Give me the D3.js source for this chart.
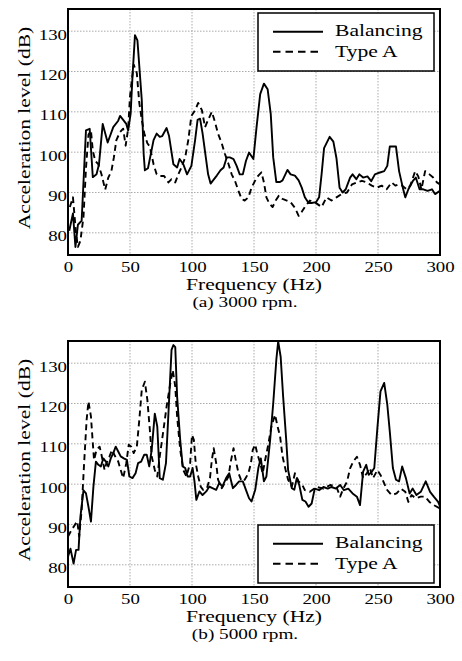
<!DOCTYPE html>
<meta charset="utf-8">
<style>
body { margin: 0; background: #fff; }
svg { display: block; font-family: 'Liberation Serif', 'Times New Roman', serif; }
</style>
<body>
<svg class="figure"></svg>

<script src="https://d3js.org/d3.v7.min.js"></script>
<script>
// [frequency (Hz), acceleration level (dB)]
let bal3000 = [[1,80.5],[4,84.8],[6,76.5],[8,82],[11,83],[14.5,105.4],[17.5,105.8],[20,93.8],[23,94.5],[25,97],[28,107],[32,102.4],[36.5,106.2],[40.5,107.8],[42,109],[44.5,108],[47,107],[48.5,105.4],[50.5,109.5],[52,118.7],[54,129],[56,127.7],[59.5,112.9],[61,99.6],[62,95.5],[64.5,96],[69,103],[71.5,104.6],[74,103.8],[76,104],[79.5,106],[81.5,104],[85,97],[88,96.2],[90,98.3],[93,97],[96,94.5],[99.5,96.6],[102.5,103],[104.5,108],[106.5,108.3],[108.5,104.7],[111,99],[113,94.5],[115,92.2],[117,93],[120,94.2],[123,95.5],[125.5,96.2],[128,98.7],[130.5,98.7],[133.5,98.3],[136,96.6],[138.5,94.5],[141,94.5],[143.5,97.8],[146,99.9],[149.5,98.3],[152,106],[155,114.4],[158,117],[161,115.6],[163.5,109.5],[165.5,98.7],[168,92.6],[171,92.6],[173,93],[177,95.6],[179.5,94.5],[183,94.2],[186,93],[188.5,91.2],[191,88.8],[194,87.4],[196.5,87.4],[200,87.6],[202.5,88.8],[204.5,94.5],[206.5,101],[211,103.8],[214,102.6],[216.5,98.5],[219,91.2],[221.5,90],[224,90.8],[227.5,93.7],[229.5,94.5],[232.5,93.3],[235,94.5],[238,93.7],[241.5,94],[244.5,92.8],[247.5,94.5],[251,94.9],[255,95.3],[257.5,96.6],[259.5,101.4],[264.5,101.4],[267,95.3],[270,91.2],[272,88.8],[274.5,90.8],[278,92.8],[280.5,93.7],[283.5,90.8],[286.5,90.8],[290,90.4],[293.5,90.8],[296,89.6],[300,90.4]];

let typeA3000 = [[1.5,86.4],[4,88.8],[6.5,79.8],[8,76.5],[10,78],[12.5,84],[14.5,96],[16.5,104.3],[18.5,105.4],[20,100.4],[22,97.8],[24.5,97],[27,94.5],[30,90.7],[32.5,93.7],[35,95.3],[37,98.7],[39,103],[42,105],[44.5,105.8],[46.5,101.6],[48.5,105.8],[50,113.8],[51.5,118],[53,121.7],[55.5,119.6],[57.5,112.2],[59.5,108],[61.5,104.7],[64,102.2],[66,101.4],[69,97],[71.5,94.5],[74,94.1],[77.5,94.1],[81,92.5],[83.5,93.3],[86.5,92.5],[89,94.5],[91.5,96.2],[94.5,98.7],[97,103],[99.5,109],[102.5,110.4],[105,112.2],[108,110.4],[110.5,106.2],[113,108],[116,110],[118.5,107.5],[121,104.6],[124,102.2],[126.5,99.6],[129.5,97],[132,94.5],[134.5,93],[137.5,90.4],[140,88.4],[142.5,88],[145.5,88.8],[148,91.2],[151,93],[153.5,94.2],[156,95],[158,92.5],[160,88.8],[162.5,87.2],[165,86.4],[167.5,88],[170,89.2],[173,88.4],[176.5,88],[179.5,87.6],[183,86.2],[186,84.2],[188.5,85.2],[191,86.4],[195,88],[199,87.6],[204.5,86.4],[208.5,88.8],[212.5,88],[216.5,88.8],[220.5,89.6],[225,90],[229,92],[233,92.5],[237,92.9],[241,92.5],[245,91.7],[249,91.2],[253,91.7],[257,90.8],[261,92.5],[264,91.7],[266.5,92],[269.5,91.7],[273,90.8],[276,91.7],[280,95.3],[282.5,94],[285,90.8],[288,95.3],[291.5,94.5],[294.5,93.7],[297.5,92.5],[300,92]];

let bal5000 = [[0,82],[2,84],[4.5,80.3],[6.5,83.7],[8.5,83.7],[10,91.9],[12.5,98.5],[14.5,97.7],[16.5,94.4],[18.5,90.7],[20.5,99.4],[22.5,105.6],[24.5,104.8],[26.5,104.4],[28.5,106.4],[30.5,105.6],[32.5,104.4],[34.5,106.4],[36.5,107.7],[38.5,109.3],[40.5,108.1],[42.5,106.9],[45,106.4],[47.5,106],[49.5,101.9],[52,101.5],[54.5,102.7],[56.5,105.2],[59,105.6],[61.5,107.3],[63.5,107.3],[65.5,104.4],[67.5,108.5],[70,117.5],[72,114.3],[74,101.5],[76.5,101.1],[79,105.2],[81,117.6],[83.5,133.3],[85,134.5],[86.5,134],[88,121.7],[90.5,110.9],[92.5,104.4],[94.5,104],[96.5,101.9],[98.5,101.9],[100.5,104],[102,100.7],[103.5,96.1],[106,98.2],[108.5,97.3],[111.5,98.2],[114,99.4],[116.5,99],[119.5,98.6],[122,100.3],[124.5,99.4],[127.5,101.5],[130,102.7],[133,99],[135.5,99.8],[138,100.7],[141,100.7],[143.5,98.6],[146,96.5],[148,95.7],[151,98.6],[153.5,104],[155.5,106.4],[158,100.7],[160,101.9],[163,110.9],[165.5,120],[168,130.8],[169.5,135.4],[171.5,131.6],[173.5,121.7],[176,110.9],[177.5,103.5],[180.5,99],[182.5,98.6],[184.5,101.5],[186.5,99.8],[189,96.1],[191.5,95.7],[194,94.4],[196.5,95.2],[199,98.9],[202.5,98.5],[206,99.3],[209.5,98.9],[212.5,99.3],[216,98.9],[219.5,99.8],[222.5,98.5],[226,98.9],[229.5,97.7],[233,96.9],[235.5,94.8],[238,103.1],[240.5,104.8],[242.5,102.3],[245,103.1],[247,104],[249.5,113.9],[252,123],[255,125.1],[257.5,119.7],[259.5,113.1],[262,104],[264.5,101.1],[267,100.7],[269.5,104.4],[272.5,101.5],[275.5,97.7],[278,98.9],[281,97.3],[284.5,98.1],[288.5,100.7],[292,98.1],[295,96.9],[298.5,95.6],[300,94.5]];

let typeA5000 = [[0,87],[3,88.7],[5.5,89.9],[7.5,90.8],[9,87],[11,93.6],[13,105.2],[15,115.9],[16.5,120.5],[18.5,116.8],[20,110.2],[21,106],[23,108.5],[25.5,109.3],[27,107.3],[29.5,103.5],[31,105.2],[33.5,106.9],[35.5,108.5],[38,106.9],[40.5,105.6],[42.5,103.5],[44.5,101.5],[47,105.2],[49,109.8],[51,109.3],[53,107.7],[55.5,109.3],[57.5,115.9],[59.5,123.4],[62,125.4],[64,120.9],[66,113.5],[67.5,106.9],[70,103.5],[72,101.9],[74,106.9],[77,113.5],[79.5,119.2],[82.5,125],[84.5,128.3],[86.5,124.2],[88,116.8],[90.5,108.5],[93,103.5],[95.5,101.9],[98.5,105.2],[100,112.2],[101.5,111],[103,105.2],[105,101.9],[107,99.4],[109,98.6],[112,99],[114.5,101.5],[116,106],[117.5,108.9],[119.5,105.2],[121,101.1],[124,99],[126.5,100.3],[129.5,101.9],[131,105.2],[133.5,108.9],[135.5,105.6],[137.5,102.7],[140,100.7],[142.5,101.1],[145.5,102.7],[147.5,105.2],[149,108.5],[151,109.8],[152.5,107.7],[155,105.2],[157,102.7],[159,106],[161.5,109.8],[164,114.3],[167,117.2],[169,114.3],[171,111.9],[173,106.9],[175.5,103.5],[177.5,101.1],[180.5,99.4],[183,102.7],[186,100.7],[189,99.8],[191,98.5],[195,98.1],[200.5,99.3],[206,98.9],[211.5,99.8],[216.5,99.3],[219.5,96.9],[222,98.9],[225,100.6],[227.5,103.9],[230,105.6],[233,106.8],[235.5,104.8],[238,101.5],[241,102.7],[243.5,104],[246,101.5],[249.5,103.5],[252,102.3],[255,100.2],[257.5,98.5],[261,97.3],[265,97.7],[268.5,98.9],[272,98.1],[274.5,95.6],[277,97.3],[280.5,96.5],[284.5,96.9],[288,96.9],[291.5,95.6],[295,94.8],[300,94]];

let xTicks = [0,50,100,150,200,250,300];
let yTicks = [80,90,100,110,120,130];
let xDomain = [0,300];
let yDomain = [74.5,135.5];
let seriesNames = ['Balancing','Type A'];
let captions = ['(a) 3000 rpm.','(b) 5000 rpm.'];

// page + panel geometry
let rwidth = 462, rheight = 661;
let plotLeft = 68, plotRight = 440, plotH = 246;
let sx = 1.3;   // the figure's type is set wide

let svg = d3.select('.figure')
            .attr('width',rwidth)
            .attr('height',rheight)

svg.append('rect').attr('width',rwidth).attr('height',rheight).attr('fill','#fff')

let panels = [
  {top:9,   series:[bal3000,typeA3000], legendTop:13,  caption:captions[0]},
  {top:341, series:[bal5000,typeA5000], legendTop:525, caption:captions[1]}
];

function wideText(g, x, y, str, size, rotate) {
  return g.append('text')
    .attr('transform', `translate(${x},${y})` + (rotate ? ` rotate(${rotate})` : '') + ` scale(${sx},1)`)
    .style('font-size', size + 'px')
    .text(str)
}

panels.forEach((p,pi) => {
  let g = svg.append('g')
  let bottom = p.top + plotH;

  let xscale = d3.scaleLinear().domain(xDomain).range([plotLeft,plotRight])
  let yscale = d3.scaleLinear().domain(yDomain).range([bottom,p.top])

  // dotted grid
  g.append('g').selectAll('line')
    .data(xTicks.slice(1,-1))
    .join('line')
    .attr('x1',d => xscale(d)).attr('x2',d => xscale(d))
    .attr('y1',p.top).attr('y2',bottom)
    .attr('stroke','#aaa').attr('stroke-width',1).attr('stroke-dasharray','1.5,1.5')

  g.append('g').selectAll('line')
    .data(yTicks)
    .join('line')
    .attr('x1',plotLeft).attr('x2',plotRight)
    .attr('y1',d => yscale(d)).attr('y2',d => yscale(d))
    .attr('stroke','#aaa').attr('stroke-width',1).attr('stroke-dasharray','1.5,1.5')

  // axes (labels only)
  let xaxis = g.append('g').attr('transform',`translate(0,${bottom})`)
    .call(d3.axisBottom(xscale).tickValues(xTicks).tickSize(0))
  xaxis.select('.domain').remove()
  xaxis.attr('font-family',null).attr('font-size',null)
  xaxis.selectAll('text')
    .attr('y',null).attr('dy',null)
    .attr('transform',`translate(0,17) scale(${sx},1)`)
    .attr('fill','#000')
    .style('font-size','14.5px')

  let yaxis = g.append('g').attr('transform',`translate(${plotLeft},0)`)
    .call(d3.axisLeft(yscale).tickValues(yTicks).tickSize(0))
  yaxis.select('.domain').remove()
  yaxis.attr('font-family',null).attr('font-size',null)
  yaxis.selectAll('text')
    .attr('x',null).attr('dy',null)
    .attr('transform',`translate(-1,8) scale(${sx},1)`)
    .attr('fill','#000')
    .style('font-size','14.5px')

  // curves
  let clipId = 'clip' + pi;
  svg.append('clipPath').attr('id',clipId)
    .append('rect').attr('x',plotLeft).attr('y',p.top).attr('width',plotRight-plotLeft).attr('height',plotH)

  let line = d3.line()
    .x(d => xscale(d[0]))
    .y(d => yscale(d[1]))

  g.append('g').attr('clip-path',`url(#${clipId})`)
    .selectAll('path')
    .data(p.series)
    .join('path')
    .attr('d',d => line(d))
    .attr('fill','none')
    .attr('stroke','#000')
    .attr('stroke-width',1.9)
    .attr('stroke-linejoin','round')
    .attr('stroke-dasharray',(d,i) => i == 1 ? '6,4' : null)

  // frame
  g.append('rect')
    .attr('x',plotLeft).attr('y',p.top)
    .attr('width',plotRight-plotLeft).attr('height',plotH)
    .attr('fill','none').attr('stroke','#000').attr('stroke-width',2)

  // legend
  let lg = g.append('g')
  lg.append('rect')
    .attr('x',258).attr('y',p.legendTop).attr('width',176).attr('height',58)
    .attr('fill','#fff').attr('stroke','#000').attr('stroke-width',1.5)
  seriesNames.forEach((name,i) => {
    let ly = p.legendTop + 18.7 + i*20;
    lg.append('line')
      .attr('x1',273).attr('x2',323).attr('y1',ly).attr('y2',ly)
      .attr('stroke','#000').attr('stroke-width',2)
      .attr('stroke-dasharray',i == 1 ? '7.5,5' : null)
    wideText(lg, 335, p.legendTop + 23 + i*21, name, 16.6)
  })

  // titles
  wideText(g, (plotLeft+plotRight)/2, bottom + 35, 'Frequency (Hz)', 16.6)
    .attr('text-anchor','middle')
  wideText(g, 245, bottom + 52, p.caption, 14.8)
    .attr('text-anchor','middle')
  wideText(g, 30, p.top + plotH/2 - 4, 'Acceleration level (dB)', 16.6, -90)
    .attr('text-anchor','middle')
})
</script>
</body>
